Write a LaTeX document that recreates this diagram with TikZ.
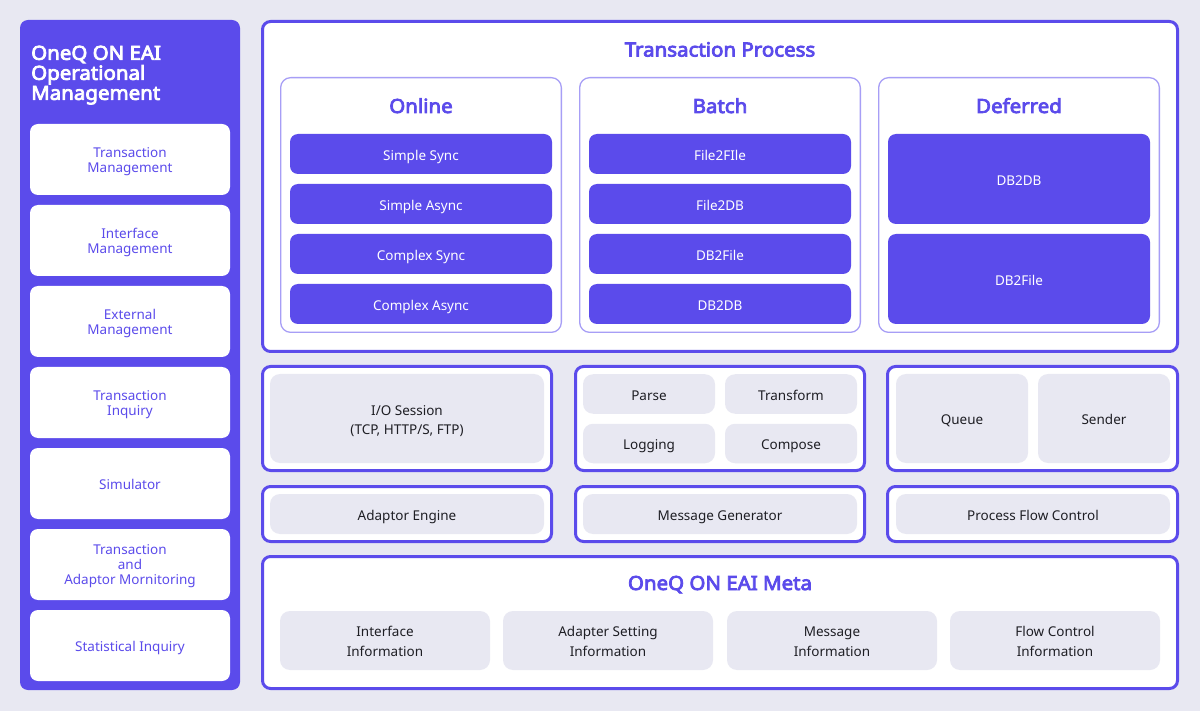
\documentclass[tikz,border=0pt]{standalone}
\usepackage{fontspec}
\setmainfont{Noto Sans}[BoldFont={Noto Sans}, BoldFeatures={FakeBold=4, FakeStretch=1.05}]
\definecolor{pur}{HTML}{5B4BEB}
\definecolor{lpur}{HTML}{A79EF6}
\definecolor{bgc}{HTML}{E8E8F2}
\definecolor{gfill}{HTML}{E8E8F2}
\definecolor{tdark}{HTML}{1E1E24}
\tikzset{
  panel/.style={fill=pur, rounded corners=8pt, inner sep=0pt, outer sep=0pt},
  sidebox/.style={fill=white, rounded corners=8pt, text=pur, align=center, inner sep=0pt,
    font=\fontsize{13.5}{15}\selectfont, minimum width=200pt, minimum height=71pt},
  sidetxt/.style={text=pur, align=center, inner sep=0pt,
    font=\fontsize{13.5}{15}\selectfont, yshift=-2pt},
  frame/.style={draw=pur, line width=3pt, fill=white, rounded corners=8pt, inner sep=0pt},
  subframe/.style={draw=lpur, line width=1.3pt, fill=white, rounded corners=10pt, inner sep=0pt,
    minimum width=280.7pt, minimum height=254.7pt},
  item/.style={fill=pur, rounded corners=8pt, text=white, inner sep=0pt,
    font=\fontsize{13.5}{15}\selectfont, minimum width=262pt, text height=12.8pt, text depth=0pt},
  gbox/.style={fill=gfill, rounded corners=10pt, text=tdark, align=center, inner sep=0pt,
    font=\fontsize{13.5}{19.5}\selectfont},
  gtxt/.style={text=tdark, align=center, inner sep=0pt, font=\fontsize{13.5}{19.5}\selectfont},
  one/.style={text height=12.8pt, text depth=0pt},
  ttl/.style={text=pur, font=\bfseries\fontsize{19.5}{20}\selectfont, inner sep=0pt, anchor=base},
}
\begin{document}
\begin{tikzpicture}[x=1pt,y=-1pt]
\useasboundingbox (0,0) rectangle (1200,711);
\fill[bgc] (0,0) rectangle (1200,711);

% left panel
\node[panel, minimum width=220pt, minimum height=670pt] (left) at (130,355) {};
\node[anchor=north west, inner sep=0pt, align=left, text=white,
  font=\bfseries\fontsize{19.5}{20}\selectfont] (lt) at (31,45.5)
  {OneQ ON EAI\\Operational\\Management};
\node[sidebox, label={[sidetxt]center:{Transaction\\Management}}] (s1) at (130,159.5) {};
\node[sidebox, label={[sidetxt]center:{Interface\\Management}}] (s2) at (130,240.5) {};
\node[sidebox, label={[sidetxt]center:{External\\Management}}] (s3) at (130,321.5) {};
\node[sidebox, label={[sidetxt]center:{Transaction\\Inquiry}}] (s4) at (130,402.5) {};
\node[sidebox, one] (s5) at (130,483.5) {Simulator};
\node[sidebox, label={[sidetxt]center:{Transaction\\and\\Adaptor Mornitoring}}] (s6) at (130,564.5) {};
\node[sidebox, one] (s7) at (130,645.5) {Statistical Inquiry};

% transaction process
\node[frame, minimum width=915pt, minimum height=330pt] (tp) at (720,186.5) {};
\node[ttl] (tpt) at (720,56.5) {Transaction Process};

\node[subframe] (on) at (421,205) {};
\node[subframe] (ba) at (720,205) {};
\node[subframe] (de) at (1019,205) {};
\node[ttl] (ont) at (421,113) {Online};
\node[ttl] (bat) at (720,113) {Batch};
\node[ttl] (det) at (1019,113) {Deferred};

\node[item, minimum height=40pt] (o1) at (421,154) {Simple Sync};
\node[item, minimum height=40pt] (o2) at (421,204) {Simple Async};
\node[item, minimum height=40pt] (o3) at (421,254) {Complex Sync};
\node[item, minimum height=40pt] (o4) at (421,304) {Complex Async};

\node[item, minimum height=40pt] (b1) at (720,154) {File2FIle};
\node[item, minimum height=40pt] (b2) at (720,204) {File2DB};
\node[item, minimum height=40pt] (b3) at (720,254) {DB2File};
\node[item, minimum height=40pt] (b4) at (720,304) {DB2DB};

\node[item, minimum height=90pt] (d1) at (1019,179) {DB2DB};
\node[item, minimum height=90pt] (d2) at (1019,279) {DB2File};

% row 1
\node[frame, minimum width=289pt, minimum height=104pt] (r1a) at (407,418.5) {};
\node[frame, minimum width=289pt, minimum height=104pt] (r1b) at (720,418.5) {};
\node[frame, minimum width=290pt, minimum height=104pt] (r1c) at (1032.5,418.5) {};
\node[gbox, minimum width=274pt, minimum height=89pt,
  label={[gtxt, yshift=-2.5pt]center:{I/O Session\\(TCP, HTTP/S, FTP)}}] (io) at (407,418.5) {};
\node[gbox, one, minimum width=132pt, minimum height=39.5pt] (pa) at (649,394) {Parse};
\node[gbox, one, minimum width=132pt, minimum height=39.5pt] (tr) at (791,394) {Transform};
\node[gbox, one, minimum width=132pt, minimum height=39.5pt] (lo) at (649,443.5) {Logging};
\node[gbox, one, minimum width=132pt, minimum height=39.5pt] (co) at (791,443.5) {Compose};
\node[gbox, one, minimum width=132pt, minimum height=89pt] (qu) at (962,418.5) {Queue};
\node[gbox, one, minimum width=132pt, minimum height=89pt] (se) at (1104,418.5) {Sender};

% row 2
\node[frame, minimum width=289pt, minimum height=55pt] (r2a) at (407,514) {};
\node[frame, minimum width=289pt, minimum height=55pt] (r2b) at (720,514) {};
\node[frame, minimum width=290pt, minimum height=55pt] (r2c) at (1032.5,514) {};
\node[gbox, one, minimum width=274pt, minimum height=40pt] (ae) at (407,514) {Adaptor Engine};
\node[gbox, one, minimum width=274pt, minimum height=40pt] (mg) at (720,514) {Message Generator};
\node[gbox, one, minimum width=274pt, minimum height=40pt] (pf) at (1033,514) {Process Flow Control};

% meta
\node[frame, minimum width=915pt, minimum height=132pt] (meta) at (720,622.5) {};
\node[ttl] (mt) at (720,590) {OneQ ON EAI Meta};
\node[gbox, minimum width=210pt, minimum height=59pt,
  label={[gtxt, yshift=-1pt]center:{Interface\\Information}}] (m1) at (385,640.5) {};
\node[gbox, minimum width=210pt, minimum height=59pt,
  label={[gtxt, yshift=-1pt]center:{Adapter Setting\\Information}}] (m2) at (608,640.5) {};
\node[gbox, minimum width=210pt, minimum height=59pt,
  label={[gtxt, yshift=-1pt]center:{Message\\Information}}] (m3) at (832,640.5) {};
\node[gbox, minimum width=210pt, minimum height=59pt,
  label={[gtxt, yshift=-1pt]center:{Flow Control\\Information}}] (m4) at (1055,640.5) {};
\end{tikzpicture}
\end{document}
